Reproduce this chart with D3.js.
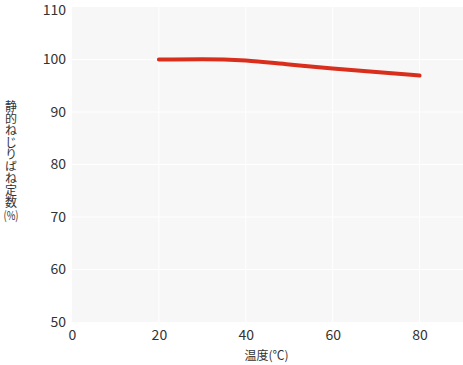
<!DOCTYPE html>
<html>
<head>
<meta charset="utf-8">
<script src="https://cdn.jsdelivr.net/npm/d3@7"></script>
<style>
  body { margin: 0; background: #fff; }
  text { font-family: "Noto Sans CJK JP", "Noto Sans", sans-serif; fill: #333; }
</style>
</head>
<body>
<div id="chart"></div>
<script>
(function () {
    var width = 463,
        height = 365;

    // data
    var temps = [20, 30, 40, 50, 60, 70, 80];
    var springRate = [100.0, 100.05, 99.8, 99.05, 98.3, 97.6, 96.95];
    var xTicks = [0, 20, 40, 60, 80];
    var yTicks = [50, 60, 70, 80, 90, 100, 110];
    var yTitle = "静的ねじりばね定数";

    var left = 72, right = 463, top = 7, bottom = 322;

    var svg = d3.select("#chart")
        .append("svg")
        .attr("width", width)
        .attr("height", height);

    var x = d3.scaleLinear().domain([0, 90]).range([left, right]);
    var y = d3.scaleLinear().domain([50, 110]).range([bottom, top]);

    // plot background
    svg.append("rect")
        .attr("x", left)
        .attr("y", top)
        .attr("width", right - left)
        .attr("height", bottom - top)
        .attr("fill", "#f7f7f7");

    // grid lines
    svg.append("g")
        .selectAll("line")
        .data(xTicks.filter(function (d) { return d > 0; }))
        .enter().append("line")
        .attr("x1", function (d) { return x(d); })
        .attr("x2", function (d) { return x(d); })
        .attr("y1", top)
        .attr("y2", bottom)
        .attr("stroke", "#fff")
        .attr("stroke-width", 1);

    svg.append("g")
        .selectAll("line")
        .data(yTicks.filter(function (d) { return d > 50 && d < 110; }))
        .enter().append("line")
        .attr("x1", left)
        .attr("x2", right)
        .attr("y1", function (d) { return y(d); })
        .attr("y2", function (d) { return y(d); })
        .attr("stroke", "#fff")
        .attr("stroke-width", 1);

    // axes (labels only)
    var yAxis = svg.append("g")
        .attr("transform", "translate(" + (left - 6) + ",0)")
        .call(d3.axisLeft(y).tickValues(yTicks).tickSize(0).tickPadding(0));
    yAxis.select(".domain").remove();
    yAxis.selectAll("text")
        .style("font-size", "14px")
        .attr("fill", "#333")
        .attr("dy", "0.32em");
    yAxis.selectAll(".tick")
        .filter(function (d) { return d === 110; })
        .select("text")
        .attr("dy", "0.5em");

    var xAxis = svg.append("g")
        .attr("transform", "translate(0," + (bottom + 8) + ")")
        .call(d3.axisBottom(x).tickValues(xTicks).tickSize(0).tickPadding(0));
    xAxis.select(".domain").remove();
    xAxis.selectAll("text")
        .style("font-size", "14px")
        .attr("fill", "#333")
        .attr("dy", "0.71em");

    // x axis title
    svg.append("text")
        .attr("x", (left + right) / 2 - 1)
        .attr("y", 360)
        .attr("text-anchor", "middle")
        .style("font-size", "12px")
        .text("温度(℃)");

    // y axis title, written vertically
    svg.append("text")
        .attr("x", 11)
        .attr("y", 100)
        .style("writing-mode", "vertical-rl")
        .style("font-size", "12px")
        .text(yTitle);
    svg.append("text")
        .attr("x", 11)
        .attr("y", 220)
        .attr("text-anchor", "middle")
        .attr("textLength", 15)
        .attr("lengthAdjust", "spacingAndGlyphs")
        .style("font-size", "12px")
        .text("(%)");

    // the curve
    var line = d3.line()
        .x(function (d, i) { return x(temps[i]); })
        .y(function (d) { return y(d); })
        .curve(d3.curveMonotoneX);

    svg.append("path")
        .datum(springRate)
        .attr("d", line)
        .attr("fill", "none")
        .attr("stroke", "#d92e1c")
        .attr("stroke-width", 4)
        .attr("stroke-linecap", "round");
})();
</script>
</body>
</html>
